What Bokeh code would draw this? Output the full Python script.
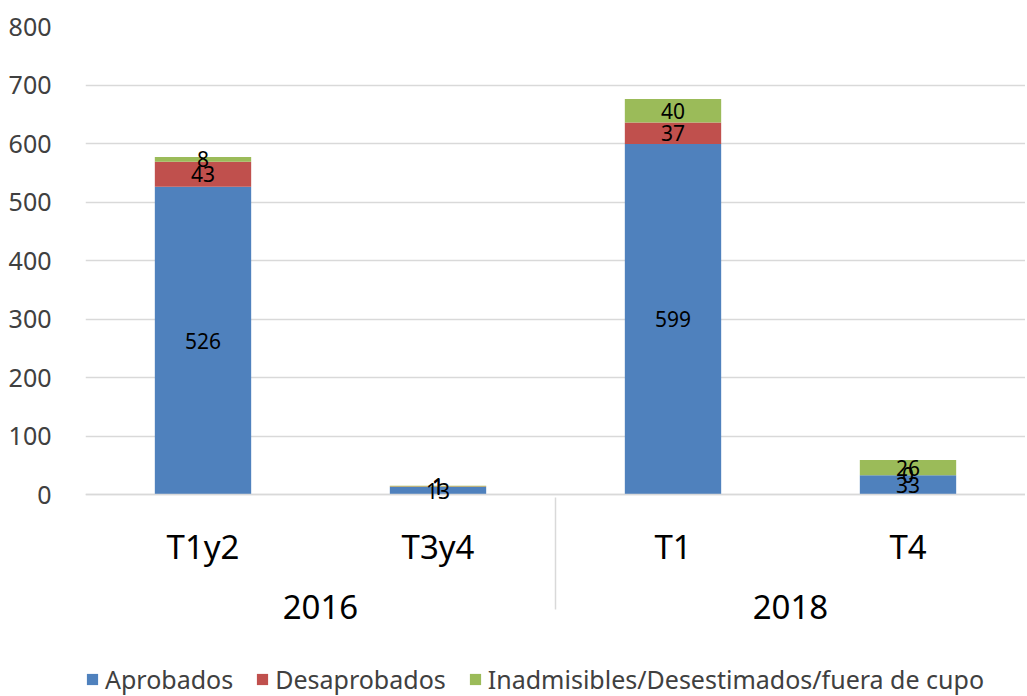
from bokeh.plotting import figure
from bokeh.models import FactorRange, ColumnDataSource, LabelSet, Legend, LegendItem, FixedTicker
from bokeh.core.properties import value
from bokeh.embed import file_html
from bokeh.resources import INLINE

years = ["2016", "2016", "2018", "2018"]
periods = ["T1y2", "T3y4", "T1", "T4"]
series = ["Aprobados", "Desaprobados", "Inadmisibles/Desestimados/fuera de cupo"]
aprobados = [526, 13, 599, 33]
desaprobados = [43, 1, 37, 0]
inadmisibles = [8, 1, 40, 26]
colors = ["#4F81BD", "#C0504D", "#9BBB59"]
y_ticks = [0, 100, 200, 300, 400, 500, 600, 700, 800]

FONT = "Noto Sans"
factors = list(zip(years, periods))

src = ColumnDataSource(dict(x=factors, a=aprobados, d=desaprobados, i=inadmisibles))

# frame reaches the bottom of the window; the x axis is pinned at y=0
p = figure(x_range=FactorRange(*factors, factor_padding=0, group_padding=0, range_padding=0),
           y_range=(-345, 800), frame_width=940, frame_height=670,
           min_border_left=85, min_border_top=26, min_border_right=0, min_border_bottom=0,
           output_backend="svg", toolbar_location=None)
p.outline_line_color = None

r = p.vbar_stack(["a", "d", "i"], x="x", width=0.41, color=colors, line_color=None, source=src)

# labels at segment midpoints
lx, ly, lt = [], [], []
for k in range(len(factors)):
    base = 0
    for vals in (aprobados, desaprobados, inadmisibles):
        v = vals[k]
        lx.append(factors[k]); ly.append(base + v / 2); lt.append(str(v))
        base += v
lsrc = ColumnDataSource(dict(x=lx, y=ly, t=lt))
p.add_layout(LabelSet(x="x", y="y", text="t", source=lsrc, text_align="center", text_baseline="middle",
                      text_font=value(FONT), text_font_size="21px", text_color="black"))

p.yaxis.ticker = FixedTicker(ticks=y_ticks)
p.yaxis.axis_line_color = None
p.yaxis.major_tick_line_color = None
p.yaxis.minor_tick_line_color = None
p.yaxis.major_label_standoff = 28
p.yaxis.major_label_text_font = FONT
p.yaxis.major_label_text_font_size = "25px"
p.yaxis.major_label_text_color = "#404040"

p.xgrid.grid_line_color = None
p.ygrid.grid_line_color = "#d9d9d9"
p.ygrid.grid_line_width = 1.5

xa = p.xaxis[0]
xa.fixed_location = 0
xa.axis_line_color = "#d9d9d9"
xa.axis_line_width = 1.5
xa.major_tick_line_color = None
xa.minor_tick_line_color = None
xa.major_label_standoff = 23
xa.major_label_text_font = FONT
xa.major_label_text_font_size = "33px"
xa.major_label_text_color = "#000000"
xa.group_text_font = FONT
xa.group_text_font_size = "33px"
xa.group_text_color = "#000000"
xa.group_text_font_style = "normal"
xa.separator_line_color = "#d9d9d9"
xa.separator_line_width = 1.5

items = [LegendItem(label=s, renderers=[rr]) for s, rr in zip(series, r)]
legend = Legend(items=items, orientation="horizontal", location=(0, 0),
                label_text_font=FONT, label_text_font_size="25px", label_text_color="#404040",
                glyph_width=14, glyph_height=14, spacing=22, label_standoff=6,
                border_line_color=None, background_fill_alpha=0, margin=0, padding=0)
p.add_layout(legend)

open("out.html", "w").write(file_html(p, INLINE))
